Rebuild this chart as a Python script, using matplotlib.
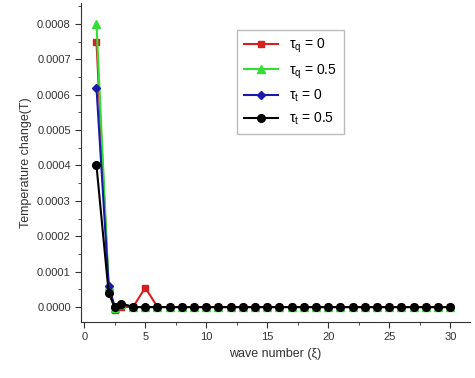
import matplotlib
matplotlib.use("Agg")
import matplotlib.pyplot as plt
from matplotlib.ticker import MultipleLocator, FormatStrFormatter

plt.rcParams['font.family'] = ['Liberation Sans', 'DejaVu Sans']
plt.rcParams['mathtext.fontset'] = 'custom'
plt.rcParams['mathtext.rm'] = 'Liberation Sans'
plt.rcParams['mathtext.it'] = 'Liberation Sans'

x = [1, 2, 2.5, 3, 4, 5, 6, 7, 8, 9, 10, 11, 12, 13, 14, 15, 16, 17, 18, 19, 20,
     21, 22, 23, 24, 25, 26, 27, 28, 29, 30]
tail = [0.0] * 25
red = [0.00075, 0.00005, -0.000008, 0.0, 0.0, 0.000055] + tail
green = [0.0008, 0.00006, -0.000004, 0.00001, 0.0, 0.0] + tail
blue = [0.00062, 0.00006, 0.0, 0.00001, 0.0, 0.0] + tail
black = [0.0004, 0.00004, 0.0, 0.00001, 0.0, 0.0] + tail

labels = [r'$\tau_q$ = 0', r'$\tau_q$ = 0.5', r'$\tau_t$ = 0', r'$\tau_t$ = 0.5']

fig = plt.figure(figsize=(4.75, 3.78), dpi=100)
ax = fig.add_axes([0.171, 0.148, 0.818, 0.844])

ax.plot(x, red, color='#d42020', marker='s', ms=4.5, lw=1.5, label=labels[0])
ax.plot(x, green, color='#33dd33', marker='^', ms=5.5, lw=1.5, label=labels[1])
ax.plot(x, blue, color='#1a1aa8', marker='D', ms=4.5, lw=1.5, label=labels[2])
ax.plot(x, black, color='black', marker='o', ms=5.5, lw=1.5, label=labels[3])

ax.set_xlim(-0.25, 31.6)
ax.set_ylim(-0.0000424, 0.000859)
ax.xaxis.set_major_locator(MultipleLocator(5))
ax.xaxis.set_minor_locator(MultipleLocator(2.5))
ax.yaxis.set_major_locator(MultipleLocator(0.0001))
ax.yaxis.set_minor_locator(MultipleLocator(0.00005))
ax.yaxis.set_major_formatter(FormatStrFormatter('%.4f'))
ax.tick_params(axis='both', which='major', direction='out', length=4, labelsize=8, colors='#333333')
ax.tick_params(axis='both', which='minor', direction='out', length=2, colors='#333333')
for s in ['top', 'right']:
    ax.spines[s].set_visible(False)
for s in ['left', 'bottom']:
    ax.spines[s].set_color('#333333')

ax.set_xlabel('wave number (ξ)', fontsize=9, color='#333333')
ax.set_ylabel('Temperature change(T)', fontsize=9, color='#333333')

leg = ax.legend(loc='upper left', bbox_to_anchor=(0.40, 0.915), fontsize=10,
                frameon=True, fancybox=False, edgecolor='#aaaaaa', handlelength=2.5,
                borderpad=0.5, labelspacing=0.5, borderaxespad=0)

fig.savefig('out.png', dpi=100)
